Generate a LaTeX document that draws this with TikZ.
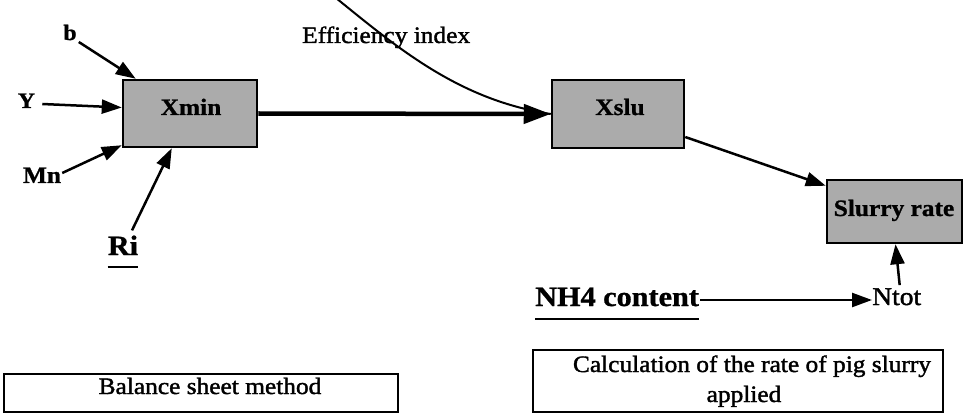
\documentclass[tikz,border=0pt]{standalone}
\usepackage{fontspec}
\setmainfont[FakeStretch=1.08]{Liberation Serif}
\usetikzlibrary{arrows.meta,calc}
\begin{document}
\begin{tikzpicture}[x=1pt,y=-1pt,
  box/.style={draw, line width=2.5pt, fill=black!33, inner sep=0},
  frame/.style={draw, line width=2pt, fill=white, inner sep=0},
  lbl/.style={font=\fontsize{23.5}{27}\selectfont\bfseries\addfontfeatures{FakeBold=1}, inner sep=0, anchor=base},
  smalllbl/.style={font=\fontsize{22}{26}\selectfont\bfseries\addfontfeatures{FakeBold=1}, inner sep=0, anchor=base},
  biglbl/.style={font=\fontsize{28}{32}\selectfont\bfseries\addfontfeatures{FakeBold=1}, inner sep=0, anchor=base},
  txt/.style={font=\fontsize{23.5}{27}\selectfont\addfontfeatures{FakeBold=1.6}, inner sep=0, anchor=base},
  arr/.style={-{Triangle[length=20pt,width=14pt]}, line width=2.5pt},
  thickarr/.style={-{Triangle[length=27pt,width=19pt]}, line width=4.5pt},
  uline/.style={line width=1.6pt}]
\useasboundingbox (0,0) rectangle (964,414);
% boxes
\node[box, minimum width=134pt, minimum height=67pt] (xmin) at (190,113.5) {};
\node[lbl] (xmint) at (191,115) {Xmin};
\node[box, minimum width=132pt, minimum height=68pt] (xslu) at (618,114) {};
\node[lbl] (xslut) at (620,115) {Xslu};
\node[box, minimum width=135pt, minimum height=63pt] (slurry) at (894.5,211.5) {};
\node[lbl] (slurryt) at (894,216) {Slurry rate};
\node[frame, minimum width=394pt, minimum height=38pt] (bal) at (201,393) {};
\node[txt] (balt) at (210,394) {Balance sheet method};
\node[frame, minimum width=410pt, minimum height=62pt] (calc) at (738,381) {};
\node[txt] (calct1) at (752,372) {Calculation of the rate of pig slurry};
\node[txt] (calct2) at (744,402) {applied};
% labels
\node[smalllbl] (b) at (70,40) {b};
\node[smalllbl] (y) at (26.5,108) {Y};
\node[lbl] (mn) at (42,183) {Mn};
\node[biglbl] (ri) at (123,255) {Ri};
\draw[uline] ($(ri.base west)+(0,12)$) -- ($(ri.base east)+(0,12)$);
\node[txt, anchor=base west] (eff) at (302,43) {Efficiency index};
\node[biglbl, anchor=base west] (nh4) at (535,306) {NH4 content};
\draw[uline] ($(nh4.base west)+(0,13)$) -- ($(nh4.base east)+(0,13)$);
\node[txt, anchor=base west, font=\fontsize{25.5}{29}\selectfont\addfontfeatures{FakeBold=1.6}] (ntot) at (872,305) {Ntot};
% connectors
\draw[arr] ($(b.base east)+(2,2)$) -- ($(xmin.north west)+(14,0)$);
\draw[arr] ($(y.base east)+(7,-4)$) -- ($(xmin.west)+(0,-6)$);
\draw[arr] ($(mn.base east)+(1,-10)$) -- ($(xmin.south west)+(0,-3)$);
\draw[arr] ($(ri.north)+(9,-5)$) -- ($(xmin.south west)+(50,0)$);
\coordinate (effstart) at (336,-2);
\draw[line width=2pt] (effstart) .. controls (400,50) and (460,100) .. (xslu.west);
\draw[thickarr] (xmin.east) -- (xslu.west);
\draw[arr] ($(xslu.east)+(0,23)$) -- ($(slurry.north west)+(0,7)$);
\draw[arr] ($(nh4.base east)+(1,-6)$) -- ($(ntot.base west)+(0,-5)$);
\draw[arr] ($(ntot.north)+(3,-3)$) -- ($(slurry.south)+(1,0)$);
\end{tikzpicture}
\end{document}
